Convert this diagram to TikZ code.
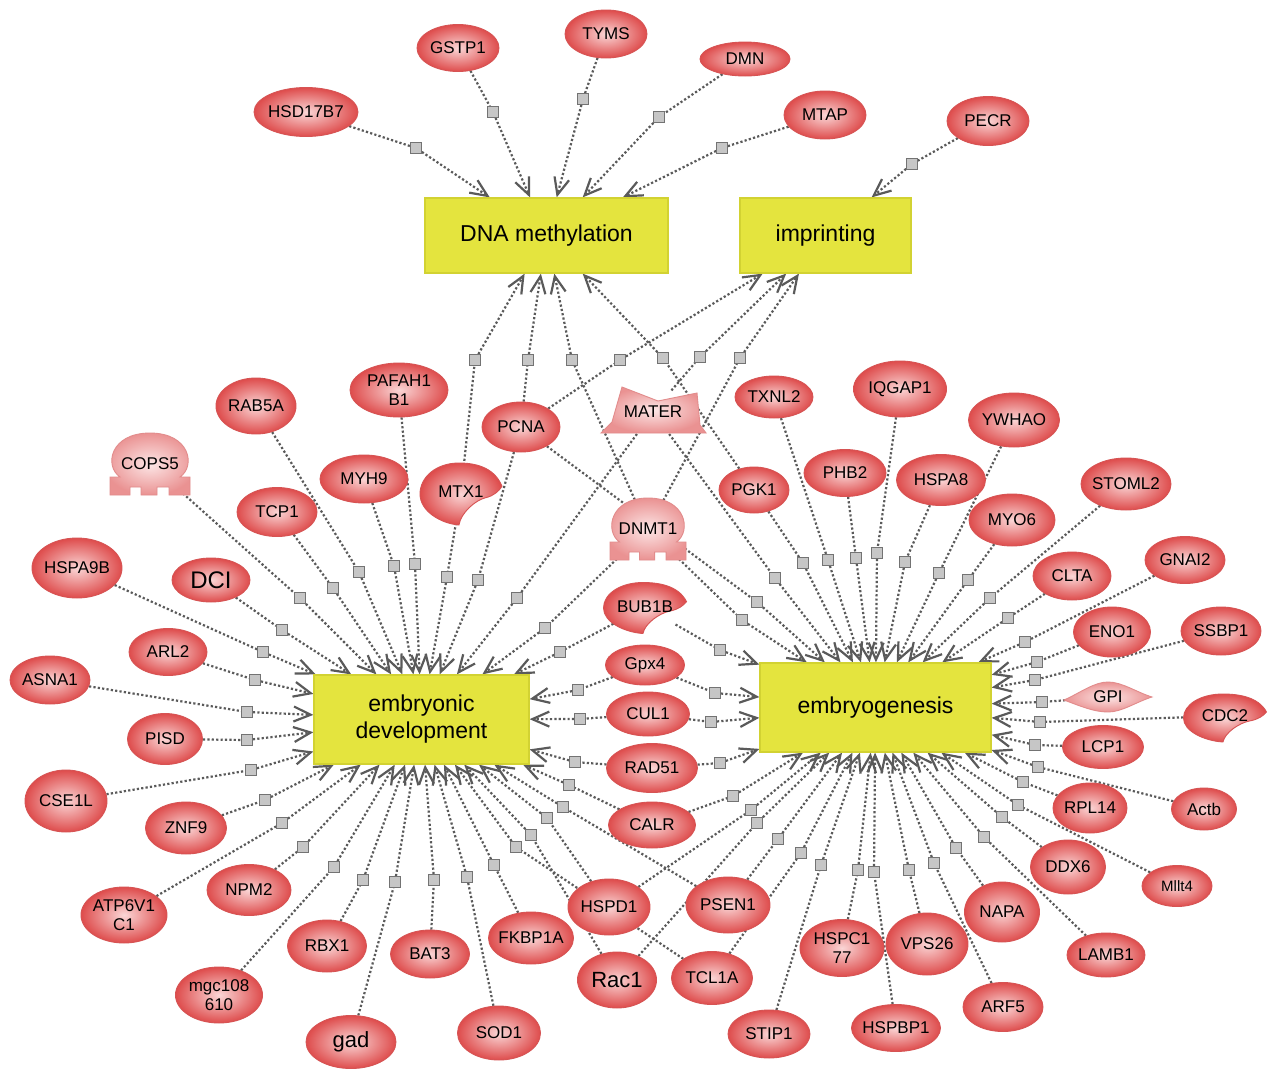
\documentclass[tikz,border=0pt]{standalone}
\usepackage{fontspec}
\setmainfont{Liberation Sans}
\usetikzlibrary{shapes.geometric,arrows.meta}
\pgfdeclarelayer{bg}
\pgfdeclarelayer{edgelayer}
\pgfsetlayers{bg,edgelayer,main}
\definecolor{gin}{RGB}{250,214,214}
\definecolor{gout}{RGB}{222,76,76}
\definecolor{gdraw}{RGB}{214,84,84}
\definecolor{lin}{RGB}{252,230,230}
\definecolor{lout}{RGB}{234,146,146}
\definecolor{ldraw}{RGB}{226,140,140}
\definecolor{boxfill}{RGB}{228,228,62}
\definecolor{boxdraw}{RGB}{210,210,50}
\definecolor{edgecol}{RGB}{90,90,90}
\definecolor{sqfill}{RGB}{198,198,198}
\definecolor{sqdraw}{RGB}{115,115,115}
\newcommand\genefnt{\fontsize{17}{19}\selectfont}
\newcommand\boxfnt{\fontsize{23}{27}\selectfont}
\tikzset{
  gene/.style 2 args={ellipse, shade, inner color=gin, outer color=gout, draw=gdraw,
    line width=0.9pt, minimum width=#1pt, minimum height=#2pt, inner xsep=-3pt, inner ysep=0pt,
    align=center, font=\genefnt},
  special/.style 2 args={ellipse, minimum width=#1pt, minimum height=#2pt,
    inner xsep=-3pt, inner ysep=0pt, align=center, font=\genefnt},
  box/.style 2 args={rectangle, fill=boxfill, draw=boxdraw, line width=1.2pt,
    minimum width=#1pt, minimum height=#2pt, inner sep=0pt, align=center, font=\boxfnt},
  sq/.style={rectangle, fill=sqfill, draw=sqdraw, line width=0.8pt,
    minimum size=11pt, inner sep=0pt},
  edge/.style={draw=edgecol, line width=2.2pt, dash pattern=on 2.2pt off 2.2pt},
  arr/.style={-{Straight Barb[length=17pt,width=15pt]}},
  redshape/.style={shade, inner color=gin, outer color=gout, draw=gdraw, line width=0.9pt},
  pinkshape/.style={shade, inner color=lin, outer color=lout, draw=ldraw, line width=0.9pt},
}
\newcommand\grel[4]{%
  \node[sq] (#1) at (#2) {};
  \begin{pgfonlayer}{edgelayer}
    \draw[edge] (#3) -- (#1);
    \draw[edge,arr] (#1) -- (#4);
  \end{pgfonlayer}}
\newcommand\kinasepath{(1,-0.25) .. controls (0.8,-0.9) and (0.3,-1) .. (-0.05,-1)
  .. controls (-0.6,-1) and (-1,-0.55) .. (-1,0)
  .. controls (-1,0.55) and (-0.5,0.95) .. (-0.05,1)
  .. controls (0,0.6) and (0.35,0.2) .. (0.6,0.12)
  .. controls (0.8,0.06) and (0.93,-0.1) .. (1,-0.25) -- cycle}
\newcommand\receptorpath{(-40,13) -- (-30,13) .. controls (-46,2) and (-40,-31) .. (0,-31)
  .. controls (40,-31) and (46,2) .. (30,13) -- (40,13) -- (40,31) -- (19,31) -- (19,23)
  -- (7,23) -- (7,31) -- (-9,31) -- (-9,23) -- (-20,23) -- (-20,31) -- (-40,31) -- cycle}
\begin{document}
\begin{tikzpicture}[x=1pt,y=-1pt]
\useasboundingbox (0,0) rectangle (1267,1069);
\begin{pgfonlayer}{bg}
  \fill[white] (0,0) rectangle (1267,1069);
\end{pgfonlayer}

% process boxes
\node[box={243}{75}] (DM) at (546.5,235.5) {DNA methylation};
\node[box={171}{75}] (IM) at (825.5,235.5) {imprinting};
\node[box={215}{89}] (ED) at (421.5,719.5) {embryonic\\development};
\node[box={231}{89}] (EG) at (875.5,707.5) {embryogenesis};

% special shapes
\path[pinkshape, shift={(150,464)}] \receptorpath;
\path[pinkshape, shift={(648,529)}, xscale=0.95] \receptorpath;
\path[pinkshape, shift={(653,410)}] (-31,-23) -- (5,-9) -- (44,-17) -- (47,15) -- (53,23)
  -- (-52,23) -- (-41,12) -- cycle;
\path[redshape, shift={(461,494)}, xscale=41, yscale=31] \kinasepath;
\path[redshape, shift={(645,608)}, xscale=41.5, yscale=25.5] \kinasepath;
\path[redshape, shift={(1225,718)}, xscale=41.5, yscale=24] \kinasepath;
\path[pinkshape, shift={(1108,697)}] (-44,3) .. controls (-28,-4) and (-14,-15) .. (0,-15)
  .. controls (14,-15) and (28,-5) .. (44,0) .. controls (28,5) and (14,15) .. (0,15)
  .. controls (-14,15) and (-28,9) .. (-44,3) -- cycle;

\node[special={80}{62}] (COPS5) at (150,464) {COPS5};
\node[special={76}{62}] (DNMT1) at (648,529) {DNMT1};
\node[special={100}{46}] (MATER) at (653,412) {MATER};
\node[special={82}{62}] (MTX1) at (461,492) {MTX1};
\node[special={83}{51}] (BUB1B) at (645,607) {BUB1B};
\node[special={83}{48}] (CDC2) at (1225,716) {CDC2};
\node[special={87}{31}] (GPI) at (1108,697) {GPI};

% genes
\node[gene={104}{49}] (HSD17B7) at (306,112) {HSD17B7};
\node[gene={82}{47}] (GSTP1) at (458,48) {GSTP1};
\node[gene={82}{48}] (TYMS) at (606,34) {TYMS};
\node[gene={90}{34}] (DMN) at (745,59) {DMN};
\node[gene={82}{48}] (MTAP) at (825,115) {MTAP};
\node[gene={82}{49}] (PECR) at (988,121) {PECR};
\node[gene={80}{56}] (RAB5A) at (256,406) {RAB5A};
\node[gene={98}{54}] (PAFAH1B1) at (399,390) {PAFAH1\\B1};
\node[gene={78}{50}] (PCNA) at (521,427) {PCNA};
\node[gene={78}{42}] (TXNL2) at (774,397) {TXNL2};
\node[gene={93}{56}] (IQGAP1) at (900,389) {IQGAP1};
\node[gene={91}{54}] (YWHAO) at (1014,420) {YWHAO};
\node[gene={88}{48}] (MYH9) at (364,479) {MYH9};
\node[gene={70}{46}] (PGK1) at (754,490) {PGK1};
\node[gene={82}{47}] (PHB2) at (845,473) {PHB2};
\node[gene={89}{51}] (HSPA8) at (941,480) {HSPA8};
\node[gene={86}{52}] (MYO6) at (1012,520) {MYO6};
\node[gene={90}{52}] (STOML2) at (1126,484) {STOML2};
\node[gene={80}{49}] (TCP1) at (277,512) {TCP1};
\node[gene={90}{60}] (HSPA9B) at (77,568) {HSPA9B};
\node[gene={78}{44}, font=\fontsize{24}{26}\selectfont] (DCI) at (211,580) {DCI};
\node[gene={78}{48}] (CLTA) at (1072,576) {CLTA};
\node[gene={80}{47}] (GNAI2) at (1185,560) {GNAI2};
\node[gene={78}{47}] (ARL2) at (168,652) {ARL2};
\node[gene={77}{50}] (ENO1) at (1112,632) {ENO1};
\node[gene={80}{48}] (SSBP1) at (1221,631) {SSBP1};
\node[gene={80}{48}] (ASNA1) at (50,680) {ASNA1};
\node[gene={79}{40}] (Gpx4) at (645,665) {Gpx4};
\node[gene={83}{44}] (CUL1) at (648,714) {CUL1};
\node[gene={75}{51}] (PISD) at (165,739) {PISD};
\node[gene={81}{43}] (LCP1) at (1103,747) {LCP1};
\node[gene={91}{49}] (RAD51) at (652,768) {RAD51};
\node[gene={82}{62}] (CSE1L) at (66,801) {CSE1L};
\node[gene={74}{50}] (RPL14) at (1090,808) {RPL14};
\node[gene={65}{42}] (Actb) at (1204,809) {Actb};
\node[gene={81}{52}] (ZNF9) at (186,828) {ZNF9};
\node[gene={87}{46}] (CALR) at (652,825) {CALR};
\node[gene={75}{54}] (DDX6) at (1068,867) {DDX6};
\node[gene={70}{41}, font=\fontsize{15}{17}\selectfont] (Mllt4) at (1177,886) {Mllt4};
\node[gene={86}{56}] (ATP6V1C1) at (124,915) {ATP6V1\\C1};
\node[gene={84}{51}] (NPM2) at (249,890) {NPM2};
\node[gene={82}{56}] (HSPD1) at (609,907) {HSPD1};
\node[gene={84}{56}] (PSEN1) at (728,905) {PSEN1};
\node[gene={75}{60}] (NAPA) at (1002,912) {NAPA};
\node[gene={79}{52}] (RBX1) at (327,946) {RBX1};
\node[gene={79}{48}] (BAT3) at (430,954) {BAT3};
\node[gene={85}{52}] (FKBP1A) at (531,938) {FKBP1A};
\node[gene={84}{57}] (HSPC177) at (842,948) {HSPC1\\77};
\node[gene={82}{62}] (VPS26) at (927,944) {VPS26};
\node[gene={78}{44}] (LAMB1) at (1106,955) {LAMB1};
\node[gene={87}{56}] (mgc108610) at (219,995) {mgc108\\610};
\node[gene={79}{56}, font=\fontsize{22}{24}\selectfont] (Rac1) at (617,980) {Rac1};
\node[gene={81}{53}] (TCL1A) at (712,978) {TCL1A};
\node[gene={80}{49}] (ARF5) at (1003,1007) {ARF5};
\node[gene={90}{53}, font=\fontsize{22}{24}\selectfont] (gad) at (351,1042) {gad};
\node[gene={83}{54}] (SOD1) at (499,1033) {SOD1};
\node[gene={82}{48}] (STIP1) at (769,1034) {STIP1};
\node[gene={89}{47}] (HSPBP1) at (896,1028) {HSPBP1};

% relations to DNA methylation
\grel{s1}{416,148}{HSD17B7}{DM}
\grel{s2}{493,112}{GSTP1}{DM}
\grel{s3}{583,99}{TYMS}{DM}
\grel{s4}{659,117}{DMN}{DM}
\grel{s5}{722,148}{MTAP}{DM}
\grel{s6}{475,360}{MTX1}{DM}
\grel{s7}{528,360}{PCNA}{DM}
\grel{s8}{572,360}{DNMT1}{DM}
\grel{s9}{663,358}{PGK1}{DM}
% relations to imprinting
\grel{s10}{912,164}{PECR}{IM}
\grel{s11}{620,360}{PCNA}{IM}
\grel{s12}{700,357}{MATER}{IM}
\grel{s13}{740,358}{DNMT1}{IM}
% relations to embryonic development
\grel{e1}{247,712}{ASNA1}{ED}
\grel{e2}{255,680}{ARL2}{ED}
\grel{e3}{263,652}{HSPA9B}{ED}
\grel{e4}{282,630}{DCI}{ED}
\grel{e5}{300,598}{COPS5}{ED}
\grel{e6}{333,588}{TCP1}{ED}
\grel{e7}{359,572}{RAB5A}{ED}
\grel{e8}{394,566}{MYH9}{ED}
\grel{e9}{415,564}{PAFAH1B1}{ED}
\grel{e10}{447,577}{MTX1}{ED}
\grel{e11}{478,580}{PCNA}{ED}
\grel{e12}{517,598}{MATER}{ED}
\grel{e13}{545,628}{DNMT1}{ED}
\grel{e14}{560,652}{BUB1B}{ED}
\grel{e15}{578,690}{Gpx4}{ED}
\grel{e16}{580,719}{CUL1}{ED}
\grel{e17}{575,762}{RAD51}{ED}
\grel{e18}{569,785}{CALR}{ED}
\grel{e19}{563,807}{PSEN1}{ED}
\grel{e20}{547,818}{HSPD1}{ED}
\grel{e21}{531,835}{Rac1}{ED}
\grel{e22}{516,847}{TCL1A}{ED}
\grel{e23}{494,865}{FKBP1A}{ED}
\grel{e24}{467,877}{SOD1}{ED}
\grel{e25}{434,880}{BAT3}{ED}
\grel{e26}{395,882}{gad}{ED}
\grel{e27}{363,880}{RBX1}{ED}
\grel{e28}{334,867}{mgc108610}{ED}
\grel{e29}{303,847}{NPM2}{ED}
\grel{e30}{282,823}{ATP6V1C1}{ED}
\grel{e31}{265,800}{ZNF9}{ED}
\grel{e32}{251,770}{CSE1L}{ED}
\grel{e33}{247,740}{PISD}{ED}
% relations to embryogenesis
\grel{g1}{720,650}{BUB1B}{EG}
\grel{g2}{742,620}{DNMT1}{EG}
\grel{g3}{757,602}{PCNA}{EG}
\grel{g4}{775,578}{MATER}{EG}
\grel{g5}{803,563}{PGK1}{EG}
\grel{g6}{828,560}{TXNL2}{EG}
\grel{g7}{856,558}{PHB2}{EG}
\grel{g8}{877,553}{IQGAP1}{EG}
\grel{g9}{905,562}{HSPA8}{EG}
\grel{g10}{939,573}{YWHAO}{EG}
\grel{g11}{968,580}{MYO6}{EG}
\grel{g12}{990,598}{STOML2}{EG}
\grel{g13}{1008,618}{CLTA}{EG}
\grel{g14}{1025,642}{GNAI2}{EG}
\grel{g15}{1037,662}{ENO1}{EG}
\grel{g16}{1035,680}{SSBP1}{EG}
\grel{g17}{1042,702}{GPI}{EG}
\grel{g18}{1040,722}{CDC2}{EG}
\grel{g19}{1035,745}{LCP1}{EG}
\grel{g20}{1038,767}{Actb}{EG}
\grel{g21}{1023,782}{RPL14}{EG}
\grel{g22}{1018,805}{Mllt4}{EG}
\grel{g23}{1002,817}{DDX6}{EG}
\grel{g24}{984,837}{LAMB1}{EG}
\grel{g25}{956,848}{NAPA}{EG}
\grel{g26}{934,863}{ARF5}{EG}
\grel{g27}{909,870}{VPS26}{EG}
\grel{g28}{874,872}{HSPBP1}{EG}
\grel{g29}{858,870}{HSPC177}{EG}
\grel{g30}{821,865}{STIP1}{EG}
\grel{g31}{801,853}{TCL1A}{EG}
\grel{g32}{778,839}{PSEN1}{EG}
\grel{g33}{757,823}{Rac1}{EG}
\grel{g34}{751,810}{HSPD1}{EG}
\grel{g35}{733,796}{CALR}{EG}
\grel{g36}{720,763}{RAD51}{EG}
\grel{g37}{711,722}{CUL1}{EG}
\grel{g38}{715,693}{Gpx4}{EG}
\end{tikzpicture}
\end{document}
